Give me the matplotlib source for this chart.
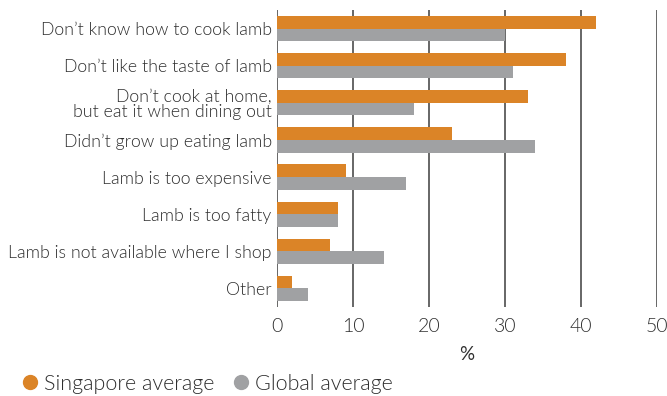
import matplotlib
matplotlib.use("Agg")
import matplotlib.pyplot as plt
from matplotlib.lines import Line2D
import numpy as np

categories = [
    "Don\u2019t know how to cook lamb",
    "Don\u2019t like the taste of lamb",
    "Don\u2019t cook at home,\nbut eat it when dining out",
    "Didn\u2019t grow up eating lamb",
    "Lamb is too expensive",
    "Lamb is too fatty",
    "Lamb is not available where I shop",
    "Other",
]
singapore = [42, 38, 33, 23, 9, 8, 7, 2]
global_avg = [30, 31, 18, 34, 17, 8, 14, 4]
x_ticks = [0, 10, 20, 30, 40, 50]
series_names = ["Singapore average", "Global average"]

ORANGE = "#DB8427"
GREY = "#A0A1A3"
TEXT = "#2e2e2e"
LINE = "#5a5a5a"

plt.rcParams["font.family"] = ["Lato", "DejaVu Sans"]
plt.rcParams["font.weight"] = 300

W, H = 667, 396
fig = plt.figure(figsize=(W / 100, H / 100), dpi=100)
ax = fig.add_axes([277.3 / W, 1 - 307 / H, (657 - 277.3) / W, 297 / H])

y = np.arange(len(categories))
h = 0.34
ax.barh(y - h / 2, singapore, height=h, color=ORANGE, zorder=3)
ax.barh(y + h / 2, global_avg, height=h, color=GREY, zorder=3)

ax.set_xlim(0, 50)
ax.set_ylim(len(categories) - 0.5, -0.5)
ax.set_xticks(x_ticks)
ax.set_yticks(y)
ax.set_yticklabels(categories, fontsize=12.8, color=TEXT, linespacing=1.0)
ax.tick_params(axis="y", length=0, pad=4)
ax.tick_params(axis="x", length=0, pad=8, labelsize=14, labelcolor=TEXT)

for v in x_ticks:
    ax.axvline(v, color=LINE, lw=1.3, zorder=2)

for s in ax.spines.values():
    s.set_visible(False)

ax.set_xlabel("%", fontsize=13.5, color=TEXT, labelpad=8)

# legend row: circle marker followed by series name
legend_y = 1 - 382 / H
legend_items = [(30, 44, ORANGE, series_names[0]), (241, 255, GREY, series_names[1])]
for mx, tx, col, name in legend_items:
    fig.add_artist(Line2D([mx / W], [legend_y], marker="o", ls="", color=col,
                          markersize=10, transform=fig.transFigure))
    fig.text(tx / W, legend_y, name, fontsize=15.5, color=TEXT,
             ha="left", va="center_baseline")

fig.savefig("out.png", dpi=100)
